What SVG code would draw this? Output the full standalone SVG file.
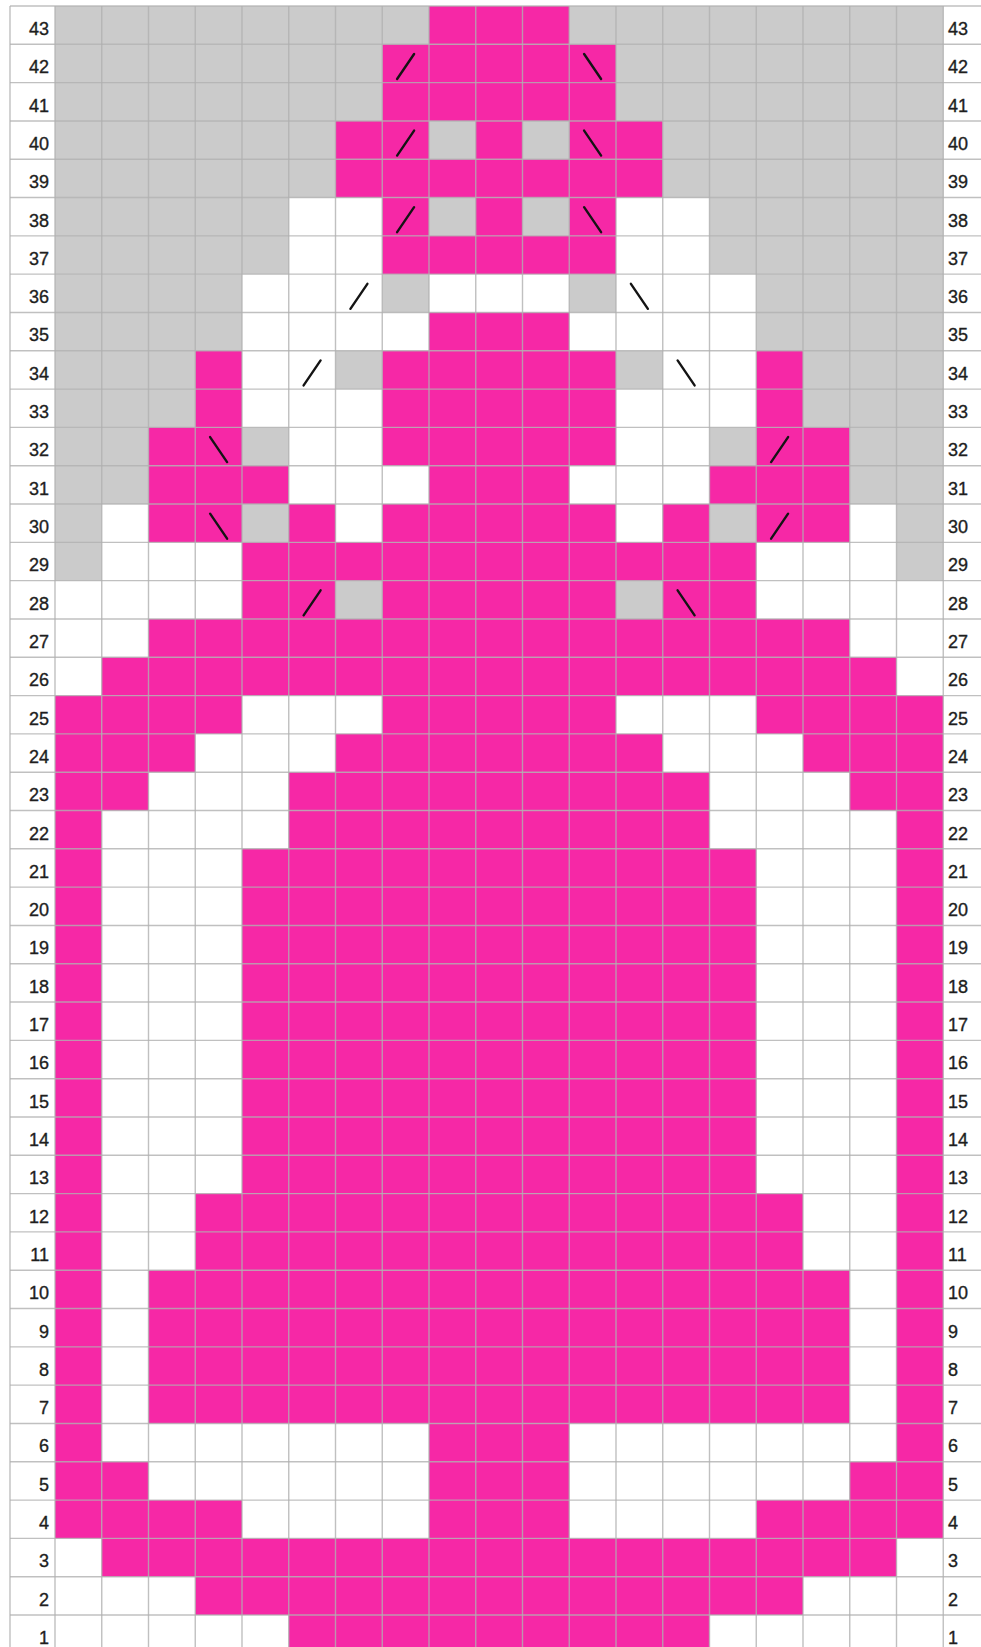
<svg xmlns="http://www.w3.org/2000/svg" xmlns:xlink="http://www.w3.org/1999/xlink" width="981" height="1647" viewBox="0 0 981 1647">
<style>
.g{fill:#cbcbcb}
.p{fill:#f628a6}
.grid{fill:none;stroke:#b0b0b0;stroke-opacity:0.8;stroke-width:1.4}
.dec{fill:none;stroke:#141414;stroke-width:2.4;stroke-linecap:round}
.lbl{font-family:"Liberation Sans",Arial,sans-serif;font-size:18px;fill:#1e1e1e;stroke:#1e1e1e;stroke-width:0.35}
.l{text-anchor:end}
.r{text-anchor:start}
</style>
<defs>
<path id="rs" class="dec" d="M-8.5,12.5L8.5,-12.5"/>
<path id="ls" class="dec" d="M-8.5,-12.5L8.5,12.5"/>
</defs>
<rect x="0" y="0" width="981" height="1647" fill="#ffffff"/>
<g id="cells" transform="translate(55,6) scale(46.75,38.31)">
<g id="cells-gray" class="g">
<rect x="0" y="0" width="8" height="1"/><rect x="11" y="0" width="8" height="1"/>
<rect x="0" y="1" width="7" height="2"/><rect x="12" y="1" width="7" height="2"/>
<rect x="0" y="3" width="6" height="2"/><rect x="13" y="3" width="6" height="2"/>
<rect x="8" y="3" width="1" height="1"/><rect x="10" y="3" width="1" height="1"/>
<rect x="0" y="5" width="5" height="2"/><rect x="14" y="5" width="5" height="2"/>
<rect x="8" y="5" width="1" height="1"/><rect x="10" y="5" width="1" height="1"/>
<rect x="0" y="7" width="4" height="2"/><rect x="15" y="7" width="4" height="2"/>
<rect x="7" y="7" width="1" height="1"/><rect x="11" y="7" width="1" height="1"/>
<rect x="0" y="9" width="3" height="2"/><rect x="16" y="9" width="3" height="2"/>
<rect x="6" y="9" width="1" height="1"/><rect x="12" y="9" width="1" height="1"/>
<rect x="0" y="11" width="2" height="2"/><rect x="17" y="11" width="2" height="2"/>
<rect x="4" y="11" width="1" height="1"/><rect x="14" y="11" width="1" height="1"/>
<rect x="0" y="13" width="1" height="2"/><rect x="18" y="13" width="1" height="2"/>
<rect x="4" y="13" width="1" height="1"/><rect x="14" y="13" width="1" height="1"/>
<rect x="6" y="15" width="1" height="1"/><rect x="12" y="15" width="1" height="1"/>
</g>
<g id="cells-pink" class="p">
<rect x="8" y="0" width="3" height="1"/>
<rect x="7" y="1" width="5" height="2"/>
<rect x="6" y="3" width="2" height="1"/><rect x="9" y="3" width="1" height="1"/><rect x="11" y="3" width="2" height="1"/>
<rect x="6" y="4" width="7" height="1"/>
<rect x="7" y="5" width="1" height="1"/><rect x="9" y="5" width="1" height="1"/><rect x="11" y="5" width="1" height="1"/>
<rect x="7" y="6" width="5" height="1"/>
<rect x="8" y="8" width="3" height="1"/>
<rect x="3" y="9" width="1" height="2"/><rect x="7" y="9" width="5" height="2"/><rect x="15" y="9" width="1" height="2"/>
<rect x="2" y="11" width="2" height="1"/><rect x="7" y="11" width="5" height="1"/><rect x="15" y="11" width="2" height="1"/>
<rect x="2" y="12" width="3" height="1"/><rect x="8" y="12" width="3" height="1"/><rect x="14" y="12" width="3" height="1"/>
<rect x="2" y="13" width="2" height="1"/><rect x="5" y="13" width="1" height="1"/><rect x="7" y="13" width="5" height="1"/><rect x="13" y="13" width="1" height="1"/><rect x="15" y="13" width="2" height="1"/>
<rect x="4" y="14" width="11" height="1"/>
<rect x="4" y="15" width="2" height="1"/><rect x="7" y="15" width="5" height="1"/><rect x="13" y="15" width="2" height="1"/>
<rect x="2" y="16" width="15" height="1"/>
<rect x="1" y="17" width="17" height="1"/>
<rect x="0" y="18" width="1" height="22"/><rect x="18" y="18" width="1" height="22"/>
<rect x="1" y="18" width="3" height="1"/><rect x="7" y="18" width="5" height="1"/><rect x="15" y="18" width="3" height="1"/>
<rect x="1" y="19" width="2" height="1"/><rect x="6" y="19" width="7" height="1"/><rect x="16" y="19" width="2" height="1"/>
<rect x="1" y="20" width="1" height="1"/><rect x="5" y="20" width="9" height="1"/><rect x="17" y="20" width="1" height="1"/>
<rect x="5" y="21" width="9" height="1"/>
<rect x="4" y="22" width="11" height="9"/>
<rect x="3" y="31" width="13" height="2"/>
<rect x="2" y="33" width="15" height="4"/>
<rect x="8" y="37" width="3" height="3"/>
<rect x="1" y="38" width="1" height="1"/><rect x="17" y="38" width="1" height="1"/>
<rect x="1" y="39" width="3" height="1"/><rect x="15" y="39" width="3" height="1"/>
<rect x="1" y="40" width="17" height="1"/>
<rect x="3" y="41" width="13" height="1"/>
<rect x="5" y="42" width="9" height="1"/>
</g>
</g>
<g id="grid">
<path class="grid" d="M10 6H981M10 44.31H981M10 82.62H981M10 120.93H981M10 159.24H981M10 197.55H981M10 235.86H981M10 274.17H981M10 312.48H981M10 350.79H981M10 389.1H981M10 427.41H981M10 465.72H981M10 504.03H981M10 542.34H981M10 580.65H981M10 618.96H981M10 657.27H981M10 695.58H981M10 733.89H981M10 772.2H981M10 810.51H981M10 848.82H981M10 887.13H981M10 925.44H981M10 963.75H981M10 1002.06H981M10 1040.37H981M10 1078.68H981M10 1116.99H981M10 1155.3H981M10 1193.61H981M10 1231.92H981M10 1270.23H981M10 1308.54H981M10 1346.85H981M10 1385.16H981M10 1423.47H981M10 1461.78H981M10 1500.09H981M10 1538.4H981M10 1576.71H981M10 1615.02H981"/>
<path class="grid" d="M10 6V1647M55 6V1647M101.75 6V1647M148.5 6V1647M195.25 6V1647M242 6V1647M288.75 6V1647M335.5 6V1647M382.25 6V1647M429 6V1647M475.75 6V1647M522.5 6V1647M569.25 6V1647M616 6V1647M662.75 6V1647M709.5 6V1647M756.25 6V1647M803 6V1647M849.75 6V1647M896.5 6V1647M943.25 6V1647"/>
</g>
<g id="decreases">
<use xlink:href="#rs" x="405.6" y="66.5"/><use xlink:href="#ls" x="592.6" y="66.5"/>
<use xlink:href="#rs" x="405.6" y="143.1"/><use xlink:href="#ls" x="592.6" y="143.1"/>
<use xlink:href="#rs" x="405.6" y="219.7"/><use xlink:href="#ls" x="592.6" y="219.7"/>
<use xlink:href="#rs" x="358.9" y="296.3"/><use xlink:href="#ls" x="639.4" y="296.3"/>
<use xlink:href="#rs" x="312.1" y="372.9"/><use xlink:href="#ls" x="686.1" y="372.9"/>
<use xlink:href="#ls" x="218.6" y="449.6"/><use xlink:href="#rs" x="779.6" y="449.6"/>
<use xlink:href="#ls" x="218.6" y="526.2"/><use xlink:href="#rs" x="779.6" y="526.2"/>
<use xlink:href="#rs" x="312.1" y="602.8"/><use xlink:href="#ls" x="686.1" y="602.8"/>
</g>
<g id="labels-left" class="lbl l">
<text x="49" y="35">43</text><text x="49" y="73.31">42</text><text x="49" y="111.62">41</text><text x="49" y="149.93">40</text><text x="49" y="188.24">39</text><text x="49" y="226.55">38</text><text x="49" y="264.86">37</text><text x="49" y="303.17">36</text><text x="49" y="341.48">35</text><text x="49" y="379.79">34</text><text x="49" y="418.1">33</text><text x="49" y="456.41">32</text><text x="49" y="494.72">31</text><text x="49" y="533.03">30</text><text x="49" y="571.34">29</text><text x="49" y="609.65">28</text><text x="49" y="647.96">27</text><text x="49" y="686.27">26</text><text x="49" y="724.58">25</text><text x="49" y="762.89">24</text><text x="49" y="801.2">23</text><text x="49" y="839.51">22</text><text x="49" y="877.82">21</text><text x="49" y="916.13">20</text><text x="49" y="954.44">19</text><text x="49" y="992.75">18</text><text x="49" y="1031.06">17</text><text x="49" y="1069.37">16</text><text x="49" y="1107.68">15</text><text x="49" y="1145.99">14</text><text x="49" y="1184.3">13</text><text x="49" y="1222.61">12</text><text x="49" y="1260.92">11</text><text x="49" y="1299.23">10</text><text x="49" y="1337.54">9</text><text x="49" y="1375.85">8</text><text x="49" y="1414.16">7</text><text x="49" y="1452.47">6</text><text x="49" y="1490.78">5</text><text x="49" y="1529.09">4</text><text x="49" y="1567.4">3</text><text x="49" y="1605.71">2</text><text x="49" y="1644.02">1</text>
</g>
<g id="labels-right" class="lbl r">
<text x="948" y="35">43</text><text x="948" y="73.31">42</text><text x="948" y="111.62">41</text><text x="948" y="149.93">40</text><text x="948" y="188.24">39</text><text x="948" y="226.55">38</text><text x="948" y="264.86">37</text><text x="948" y="303.17">36</text><text x="948" y="341.48">35</text><text x="948" y="379.79">34</text><text x="948" y="418.1">33</text><text x="948" y="456.41">32</text><text x="948" y="494.72">31</text><text x="948" y="533.03">30</text><text x="948" y="571.34">29</text><text x="948" y="609.65">28</text><text x="948" y="647.96">27</text><text x="948" y="686.27">26</text><text x="948" y="724.58">25</text><text x="948" y="762.89">24</text><text x="948" y="801.2">23</text><text x="948" y="839.51">22</text><text x="948" y="877.82">21</text><text x="948" y="916.13">20</text><text x="948" y="954.44">19</text><text x="948" y="992.75">18</text><text x="948" y="1031.06">17</text><text x="948" y="1069.37">16</text><text x="948" y="1107.68">15</text><text x="948" y="1145.99">14</text><text x="948" y="1184.3">13</text><text x="948" y="1222.61">12</text><text x="948" y="1260.92">11</text><text x="948" y="1299.23">10</text><text x="948" y="1337.54">9</text><text x="948" y="1375.85">8</text><text x="948" y="1414.16">7</text><text x="948" y="1452.47">6</text><text x="948" y="1490.78">5</text><text x="948" y="1529.09">4</text><text x="948" y="1567.4">3</text><text x="948" y="1605.71">2</text><text x="948" y="1644.02">1</text>
</g>
</svg>
